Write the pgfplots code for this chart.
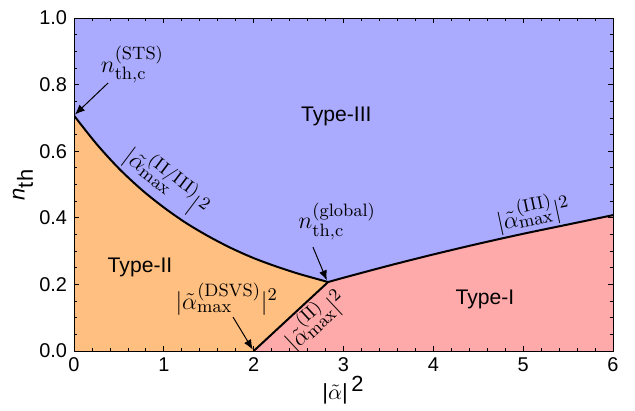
\documentclass[border=0pt]{standalone}
\usepackage[no-math]{fontspec}
\setmainfont{Liberation Sans}
\usepackage{pgfplots}
\pgfplotsset{compat=1.18}
\usetikzlibrary{arrows.meta}
\DeclareMathSizes{11.5}{11.5}{9}{7}
\definecolor{cIII}{RGB}{170,170,255}
\definecolor{cII}{RGB}{255,191,128}
\definecolor{cI}{RGB}{255,170,170}
\newcommand{\mf}{\fontsize{11.5}{13}\selectfont}
\begin{document}
\begin{tikzpicture}
\begin{axis}[
  scale only axis, width=269.5bp, height=166.5bp,
  xmin=0, xmax=6, ymin=0, ymax=1,
  axis background/.style={fill=cIII},
  xtick={0,1,2,3,4,5,6}, ytick={0,0.2,0.4,0.6,0.8,1.0},
  minor x tick num=4, minor y tick num=3,
  tick align=inside, major tick length=2.5bp, minor tick length=1.5bp,
  yticklabel style={/pgf/number format/.cd,fixed,fixed zerofill,precision=1},
  /pgf/number format/assume math mode=true,
  tick label style={font=\fontsize{10}{12}\selectfont},
  every tick/.style={black, line width=0.4bp},
  axis line style={line width=0.5bp},
  axis on top,
  xlabel={\fontsize{11}{13}\selectfont|$\tilde{\alpha}$|\,$^{\textrm{2}}$},
  ylabel={\fontsize{11}{13}\selectfont\textit{n}$_{\textrm{th}}$},
  every axis x label/.style={at={(axis description cs:0.5,0)}, anchor=center, yshift=-19.5bp},
  every axis y label/.style={at={(axis description cs:-0.0946,0.5)}, anchor=center, rotate=90},
]
% Type-II region
\addplot[fill=cII, draw=none] coordinates {
 (0,0.707) (0.25,0.622) (0.5,0.548) (0.75,0.485) (1.0,0.431) (1.25,0.384)
 (1.5,0.344) (1.75,0.309) (2.0,0.279) (2.25,0.254) (2.5,0.232) (2.75,0.213)
 (2.828,0.207) (2,0)} \closedcycle;
% Type-I region
\addplot[fill=cI, draw=none] coordinates {
 (2,0) (2.828,0.207) (3.0,0.220) (3.5,0.256) (4.0,0.290) (4.5,0.322)
 (5.0,0.352) (5.5,0.380) (6.0,0.408)} \closedcycle;
% boundaries
\addplot[black, line width=1bp, smooth] coordinates {
 (0,0.707) (0.25,0.622) (0.5,0.548) (0.75,0.485) (1.0,0.431) (1.25,0.384)
 (1.5,0.344) (1.75,0.309) (2.0,0.279) (2.25,0.254) (2.5,0.232) (2.75,0.213)
 (2.828,0.207)};
\addplot[black, line width=1bp, smooth] coordinates {
 (2.828,0.207) (3.0,0.220) (3.5,0.256) (4.0,0.290) (4.5,0.322)
 (5.0,0.352) (5.5,0.380) (6.0,0.408)};
\addplot[black, line width=1bp] coordinates {(2,0) (2.828,0.207)};

% region labels
\node[font=\fontsize{10.6}{12}\selectfont] at (axis cs:2.92,0.703) {Type-III};
\node[font=\fontsize{10.6}{12}\selectfont] at (axis cs:0.735,0.252) {Type-II};
\node[font=\fontsize{10.6}{12}\selectfont] at (axis cs:4.575,0.156) {Type-I};

% annotations
\node[font=\mf] at (axis cs:0.65,0.86) {$n_{\mathrm{th,c}}^{(\mathrm{STS})}$};
\draw[-{Latex[length=5bp,width=4bp]}, line width=0.5bp] (axis cs:0.38,0.805) -- (axis cs:0.01,0.71);
\node[font=\mf] at (axis cs:2.93,0.39) {$n_{\mathrm{th,c}}^{(\mathrm{global})}$};
\draw[-{Latex[length=5bp,width=4bp]}, line width=0.5bp] (axis cs:2.66,0.312) -- (axis cs:2.815,0.212);
\node[font=\mf] at (axis cs:1.70,0.155) {$|\tilde{\alpha}_{\mathrm{max}}^{(\mathrm{DSVS})}|^2$};
\draw[-{Latex[length=5bp,width=4bp]}, line width=0.5bp] (axis cs:1.77,0.102) -- (axis cs:1.99,0.004);
\node[font=\mf, rotate=-37] at (axis cs:1.04,0.51) {$|\tilde{\alpha}_{\mathrm{max}}^{(\mathrm{II/III})}|^2$};
\node[font=\mf, rotate=43] at (axis cs:2.68,0.095) {$|\tilde{\alpha}_{\mathrm{max}}^{(\mathrm{II})}|^2$};
\node[font=\mf, rotate=12] at (axis cs:5.11,0.415) {$|\tilde{\alpha}_{\mathrm{max}}^{(\mathrm{III})}|^2$};
\end{axis}
\path ([shift={(-37bp,-28.5bp)}]current axis.south west) rectangle ([shift={(11bp,9bp)}]current axis.north east);
\end{tikzpicture}
\end{document}
